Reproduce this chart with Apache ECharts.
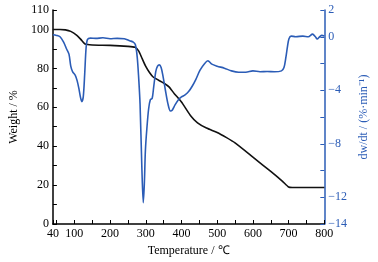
<!DOCTYPE html>
<html><head><meta charset="utf-8">
<script src="https://cdn.jsdelivr.net/npm/echarts@6/dist/echarts.min.js"></script>
<style>html,body{margin:0;padding:0;background:#fff}#c{width:378px;height:262px}</style>
</head><body><div id="c"></div>
<script>
// Weight (TG) curve
const tgTemps = [40,60,75,90,107,120,130,150,200,250,270,280,290,300,310,320,335,350,365,380,400,425,445,470,500,525,550,600,650,683,700,710,800];
const tgValues = [100,100,99.8,99,97,94.5,92.5,92,91.8,91.3,90.8,89,85,81,78,75.7,74,72.5,70.5,67,62.7,55.8,52,49.3,47,44.5,41.7,34.4,27.0,21.9,19.0,18.8,18.8];
// DTG curve
const dtgTemps = [40,50,60,70,78,85,90,95,103,108,113,117,121,125,129,133,137,145,160,180,200,220,240,255,265,271,276,280,284,289,293,296,299,303,308,313,318,322,328,333,338,343,348,355,362,369,374,382,392,400,410,420,430,440,452,465,474,485,500,520,540,560,580,600,620,640,660,680,687,692,697,701,707,720,740,755,767,775,780,787,793,800];
const dtgValues = [0.15,0.1,0.0,-0.4,-0.9,-1.3,-2.2,-2.6,-2.9,-3.3,-3.9,-4.5,-4.85,-4.5,-2.8,-0.8,-0.2,-0.1,-0.12,-0.08,-0.15,-0.12,-0.15,-0.3,-0.4,-0.6,-1.5,-3.0,-5.0,-9.7,-12.4,-11.0,-8.5,-6.9,-5.4,-4.7,-4.6,-3.8,-2.6,-2.2,-2.1,-2.3,-2.9,-4.0,-5.0,-5.55,-5.5,-5.1,-4.7,-4.5,-4.35,-4.1,-3.7,-3.2,-2.5,-2.0,-1.8,-2.05,-2.2,-2.35,-2.55,-2.65,-2.65,-2.55,-2.62,-2.6,-2.62,-2.55,-2.3,-1.6,-0.7,-0.15,0.05,0.0,0.05,0.0,0.2,0.0,-0.17,0.0,0.1,0.05];
const xLabels = [40,100,200,300,400,500,600,700,800];
const xTicks = [40,50,100,150,200,250,300,350,400,450,500,550,600,650,700,750,800];
const yLeftLabels = [0,20,40,60,80,100,110];
const yLeftTicks = [0,10,20,30,40,50,60,70,80,90,100,110];
const yRightLabels = [-14,-12,-8,-4,0,2];
const yRightTicks = [-14,-12,-10,-8,-6,-4,-2,0,2];

const BLUE = '#2b5cb6';
const FONT = 'Liberation Serif';
const chart = echarts.init(document.getElementById('c'));
chart.setOption({
  animation: false,
  textStyle: {fontFamily: FONT},
  grid: {left: 48, right: 44, top: 10, bottom: 38},
  xAxis: {
    type: 'value', min: 40, max: 800,
    name: 'Temperature / ℃', nameLocation: 'middle', nameGap: 18,
    nameTextStyle: {color: '#000', fontFamily: FONT, fontSize: 12},
    axisLine: {lineStyle: {color: '#000', width: 1.5}},
    axisTick: {inside: true, length: 4, customValues: xTicks, lineStyle: {color: '#000'}},
    axisLabel: {customValues: xLabels, color: '#000', fontFamily: FONT, fontSize: 12, margin: 4},
    splitLine: {show: false}
  },
  yAxis: [{
    type: 'value', min: 0, max: 110, position: 'left',
    name: 'Weight / %', nameLocation: 'middle', nameGap: 26, nameRotate: 90,
    nameTextStyle: {color: '#000', fontFamily: FONT, fontSize: 12},
    axisLine: {show: true, lineStyle: {color: '#000', width: 1.5}},
    axisTick: {show: true, inside: true, length: 4, customValues: yLeftTicks, lineStyle: {color: '#000'}},
    axisLabel: {customValues: yLeftLabels, color: '#000', fontFamily: FONT, fontSize: 12, margin: 4},
    splitLine: {show: false}
  }, {
    type: 'value', min: -14, max: 2, position: 'right',
    name: 'dw/dt / (%·min⁻¹)', nameLocation: 'middle', nameGap: 29, nameRotate: 90,
    nameTextStyle: {color: BLUE, fontFamily: FONT, fontSize: 12},
    axisLine: {show: true, lineStyle: {color: BLUE, width: 1.5}},
    axisTick: {show: true, inside: true, length: 4, customValues: yRightTicks, lineStyle: {color: BLUE}},
    axisLabel: {customValues: yRightLabels, color: BLUE, fontFamily: FONT, fontSize: 12, margin: 4,
      formatter: v => String(v).replace('-', '−')},
    splitLine: {show: false}
  }],
  series: [{
    type: 'line', yAxisIndex: 0, showSymbol: false, smooth: 0.2,
    lineStyle: {color: '#111', width: 1.6},
    data: tgTemps.map((t, i) => [t, tgValues[i]])
  }, {
    type: 'line', yAxisIndex: 1, showSymbol: false, smooth: 0.3,
    lineStyle: {color: BLUE, width: 1.6},
    data: dtgTemps.map((t, i) => [t, dtgValues[i]])
  }]
});
</script></body></html>
